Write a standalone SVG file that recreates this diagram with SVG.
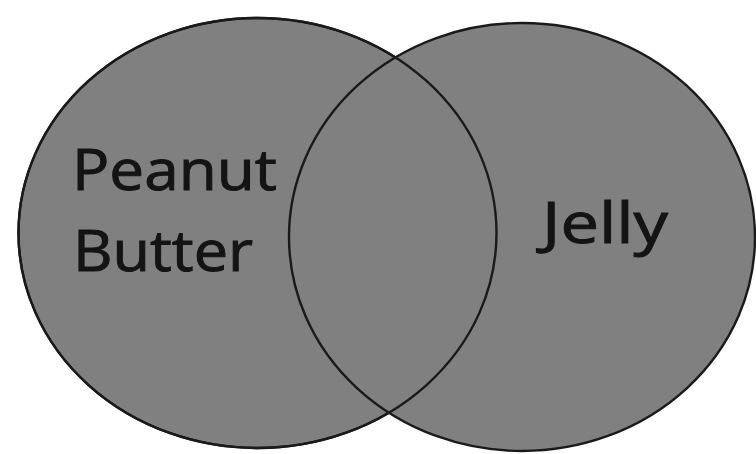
<svg xmlns="http://www.w3.org/2000/svg" width="756" height="454" viewBox="0 0 756 454">
<style>
.set{fill:#808080;stroke:#1a1a1a;stroke-width:2.4}
.set2{fill:none;stroke:#1a1a1a;stroke-width:2.4}
.lbl{font-family:"Open Sans","Noto Sans","Liberation Sans",sans-serif;font-size:57px;font-weight:400;fill:#141414;stroke:#141414;stroke-width:1}
</style>
<rect width="756" height="454" fill="#ffffff"/>
<g id="peanut-butter">
<ellipse class="set" cx="257.5" cy="233" rx="239" ry="215"/>
</g>
<g id="jelly">
<ellipse class="set" cx="522" cy="237" rx="233" ry="214"/>
</g>
<g id="outline">
<ellipse class="set2" cx="257.5" cy="233" rx="239" ry="215"/>
</g>
<g id="labels">
<text class="lbl" x="72" y="190" textLength="205" lengthAdjust="spacingAndGlyphs">Peanut</text>
<text class="lbl" x="73" y="271" textLength="180" lengthAdjust="spacingAndGlyphs">Butter</text>
<text class="lbl" x="542" y="243" textLength="126" lengthAdjust="spacingAndGlyphs">Jelly</text>
</g>
</svg>
